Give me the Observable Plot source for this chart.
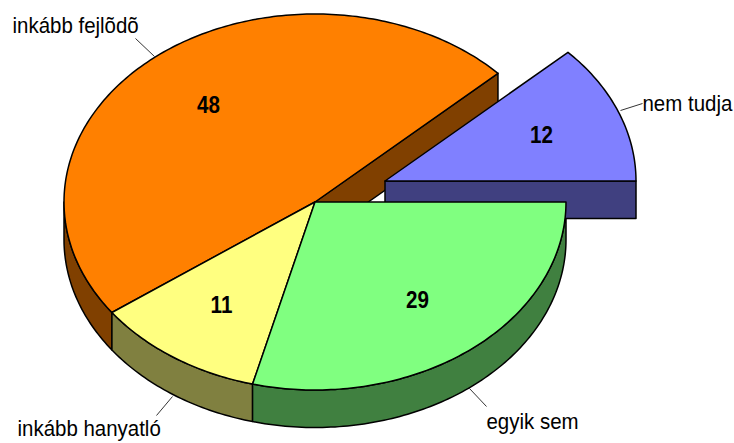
<!DOCTYPE html>
<html><head><meta charset="utf-8">
<script src="https://cdn.jsdelivr.net/npm/d3@7"></script>
<script src="https://cdn.jsdelivr.net/npm/@observablehq/plot@0.6"></script>
<style>html,body{margin:0;padding:0;background:#fff}svg{display:block}</style>
</head><body><div id="chart"></div>
<script>
// Data, counter-clockwise from the 3 o'clock direction
const categories = ["nem tudja", "inkább fejlõdõ", "inkább hanyatló", "egyik sem"];
const values = [12, 48, 11, 29];
const topColors = ["#8080FF", "#FF8000", "#FFFF80", "#80FF80"];
const sideColors = ["#404080", "#804000", "#808040", "#408040"];

// Layout of the pseudo-3D pie
const pie = {cx: 314.5, cy: 201.5, rx: 251, ry: 188, depth: 37.5, explodeX: 70, explodeY: -21};
const labelPos = [
  {x: 642, y: 103.5, fx: 620, fy: 110, tx: 642, ty: 103, vx: 541, vy: 135},
  {x: 12, y: 25, fx: 154, fy: 56, tx: 135, ty: 38, vx: 208, vy: 105},
  {x: 17, y: 428, fx: 172, fy: 396, tx: 156, ty: 415, vx: 221, vy: 305},
  {x: 486, y: 421, fx: 469, fy: 388, tx: 486, ty: 406, vx: 417, vy: 300}
];

const total = d3.sum(values);
const slices = [];
let acc = 0;
values.forEach((v, i) => {
  const a0 = acc / total * 2 * Math.PI;
  acc += v;
  const a1 = acc / total * 2 * Math.PI;
  const ox = i === 0 ? pie.explodeX : 0, oy = i === 0 ? pie.explodeY : 0;
  slices.push({i, a0, a1, cx: pie.cx + ox, cy: pie.cy + oy});
});
const pt = (s, a, dz = 0) => ({
  x: s.cx + pie.rx * Math.cos(a),
  y: s.cy - pie.ry * Math.sin(a) + dz
});
const arc = (s, a0, a1, dz = 0) => {
  const n = Math.max(2, Math.ceil(Math.abs(a1 - a0) * 60));
  return d3.range(n + 1).map(k => pt(s, a0 + (a1 - a0) * k / n, dz));
};
const poly = (key, color, pts) => [...pts, pts[0]].map(p => ({...p, key, color}));

const topFace = s => poly("top" + s.i, topColors[s.i],
  [{x: s.cx, y: s.cy}, ...arc(s, s.a0, s.a1)]);
const outerWall = s => {
  const a0 = Math.max(s.a0, Math.PI), a1 = s.a1;
  return poly("wall" + s.i, sideColors[s.i],
    [...arc(s, a0, a1), ...arc(s, a1, a0, pie.depth)]);
};
const cutFace = (s, a) => {
  const e = pt(s, a), d = pie.depth;
  return poly("cut" + s.i + a, sideColors[s.i], [
    {x: s.cx, y: s.cy}, e, {x: e.x, y: e.y + d}, {x: s.cx, y: s.cy + d}
  ]);
};

const [blue, orange, yellow, green] = slices;
const layers = [
  cutFace(orange, orange.a0),
  outerWall(orange), outerWall(yellow), outerWall(green),
  cutFace(blue, blue.a0),
  topFace(blue),
  topFace(orange), topFace(yellow), topFace(green)
];
const polyRows = layers.flat();
const labels = categories.map((name, i) => ({name, value: values[i], ...labelPos[i]}));

const plot = Plot.plot({
  width: 734, height: 443,
  marginTop: 0, marginRight: 0, marginBottom: 0, marginLeft: 0,
  x: {domain: [0, 734], range: [0, 734], axis: null},
  y: {domain: [0, 443], range: [0, 443], axis: null},
  style: {background: "#fff"},
  marks: [
    Plot.line(polyRows, {x: "x", y: "y", z: "key", fill: "color", stroke: "#000", strokeWidth: 1.5, curve: "linear"}),
    Plot.link(labels, {x1: "fx", y1: "fy", x2: "tx", y2: "ty", stroke: "#000", strokeWidth: 0.8}),
    Plot.text(labels, {x: "x", y: "y", text: "name", textAnchor: "start", fontSize: 22, fontFamily: "Liberation Sans", fill: "#000"}),
    Plot.text(labels, {x: "vx", y: "vy", text: d => String(d.value), fontSize: 24, fontWeight: "bold", fontFamily: "Liberation Sans", fill: "#000"})
  ]
});
// The reference type is condensed: narrow the glyphs without changing the text
d3.select(plot).selectAll("text").each(function() {
  const k = categories.includes(this.textContent) ? 0.93 : 0.86;
  const tx = +this.getAttribute("x") || 0, ty = +this.getAttribute("y") || 0;
  const t = this.getAttribute("transform") || "";
  this.setAttribute("transform", `${t} translate(${tx},${ty}) scale(${k},1) translate(${-tx},${-ty})`);
});
document.getElementById("chart").append(plot);
</script></body></html>
